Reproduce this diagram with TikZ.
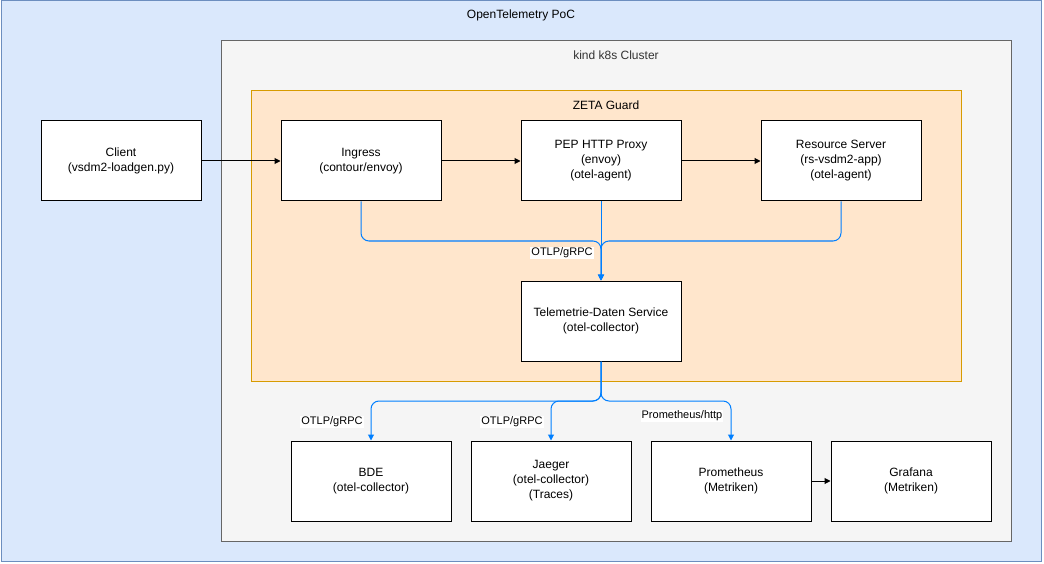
\documentclass[tikz,border=0pt]{standalone}
\usepackage{fontspec}
\setmainfont{Liberation Sans}
\usetikzlibrary{arrows.meta}
\definecolor{outerfill}{HTML}{DAE8FC}
\definecolor{outerline}{HTML}{6C8EBF}
\definecolor{k8sfill}{HTML}{F5F5F5}
\definecolor{k8sline}{HTML}{666666}
\definecolor{k8stext}{HTML}{333333}
\definecolor{zetafill}{HTML}{FFE6CC}
\definecolor{zetaline}{HTML}{D79B00}
\definecolor{flowblue}{HTML}{007FFF}
\begin{document}
\begin{tikzpicture}[x=1pt,y=-1pt,
  box/.style={draw=black,fill=white,line width=1pt,minimum width=160pt,minimum height=80pt,align=center,inner sep=0pt,font=\fontsize{12}{15}\selectfont},
  blueflow/.style={draw=flowblue,line width=1pt,rounded corners=8pt,-{Triangle[length=6pt,width=6pt]}},
  blackflow/.style={draw=black,line width=1pt,-{Triangle[length=6pt,width=6pt]}},
  lbl/.style={fill=white,inner sep=1pt,font=\fontsize{11}{13}\selectfont},
  title/.style={inner sep=0pt,font=\fontsize{12}{14}\selectfont}]
\useasboundingbox (0,0) rectangle (1044,564);
\draw[fill=outerfill,draw=outerline,line width=1pt] (1,1) rectangle (1041,561);
\node[title] (t1) at (521,15) {OpenTelemetry PoC};
\draw[fill=k8sfill,draw=k8sline,line width=1pt] (221,41) rectangle (1011,541);
\node[title,text=k8stext] (t2) at (616,55) {kind k8s Cluster};
\draw[fill=zetafill,draw=zetaline,line width=1pt] (251,91) rectangle (961,381);
\node[title] (t3) at (606,105) {ZETA Guard};

\node[box] (client) at (121,161) {Client\\(vsdm2-loadgen.py)};
\node[box] (ingress) at (361,161) {Ingress\\(contour/envoy)};
\node[box] (pep) at (601,161) {PEP HTTP Proxy\\(envoy)\\(otel-agent)};
\node[box] (rs) at (841,161) {Resource Server\\(rs-vsdm2-app)\\(otel-agent)};
\node[box] (tel) at (601,321) {Telemetrie-Daten Service\\(otel-collector)};
\node[box] (bde) at (371,481) {BDE\\(otel-collector)};
\node[box] (jaeger) at (551,481) {Jaeger\\(otel-collector)\\(Traces)};
\node[box] (prom) at (731,481) {Prometheus\\(Metriken)};
\node[box] (graf) at (911,481) {Grafana\\(Metriken)};

\draw[blackflow] (client) -- (ingress);
\draw[blackflow] (ingress) -- (pep);
\draw[blackflow] (pep) -- (rs);
\draw[blackflow] (prom) -- (graf);

\draw[blueflow] (ingress.south) -- (361,241) -- (601,241) -- (tel.north);
\draw[blueflow] (pep.south) -- (tel.north);
\draw[blueflow] (rs.south) -- (841,241) -- (601,241) -- (tel.north);
\node[lbl] (l0) at (562,253) {OTLP/gRPC};

\draw[blueflow] (tel.south) -- (601,401) -- (371,401) -- (bde.north);
\draw[blueflow] (tel.south) -- (601,401) -- (551,401) -- (jaeger.north);
\draw[blueflow] (tel.south) -- (601,401) -- (731,401) -- (prom.north);
\node[lbl] (l1) at (332,422) {OTLP/gRPC};
\node[lbl] (l2) at (512,422) {OTLP/gRPC};
\node[lbl] (l3) at (682,416) {Prometheus/http};
\end{tikzpicture}
\end{document}
